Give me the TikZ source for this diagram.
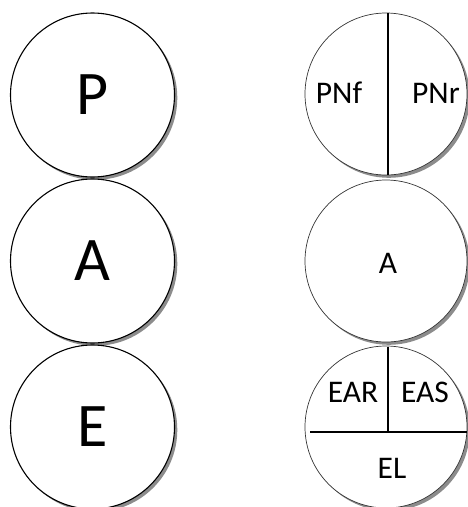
\documentclass[tikz,border=0pt]{standalone}
\usepackage{fontspec}
\setmainfont{Carlito}
\usetikzlibrary{shadows}
\begin{document}
\begin{tikzpicture}[x=1pt,y=-1pt,
  shade/.style={drop shadow={shadow xshift=2.8pt,shadow yshift=-2.8pt,fill=black!75,opacity=0.6}},
  bigcirc/.style={circle,draw=black,line width=1.1pt,fill=white,minimum size=164pt,inner sep=0pt,shade,
    font=\fontsize{62}{62}\selectfont},
  smallcirc/.style={circle,draw=black!80,line width=0.7pt,fill=white,minimum size=162pt,inner sep=0pt,shade},
  lbl/.style={inner sep=0pt,font=\fontsize{31.5}{31.5}\selectfont},
  divider/.style={draw=black,line width=1.1pt}]
\useasboundingbox (0,0) rectangle (467,507);
% left column
\node[bigcirc] (P) at (92.5,95) {P};
\node[bigcirc] (A) at (92.5,261) {A};
\node[bigcirc] (E) at (92.5,427) {E};
% right column
\node[smallcirc] (R1) at (386,94) {};
\node[smallcirc] (R2) at (386,261) {};
\node[smallcirc] (R3) at (386,427) {};
% dividers
\coordinate (t1) at (388,13);
\coordinate (b1) at (388,175);
\draw[divider] (t1) -- (b1);
\coordinate (hL) at (310,432);
\coordinate (hR) at (467,432);
\coordinate (vT) at (388,346.5);
\coordinate (vB) at (388,432);
\draw[divider] (hL) -- (hR);
\draw[divider] (vT) -- (vB);
% labels
\node[lbl] (pnf) at (339,93) {PNf};
\node[lbl] (pnr) at (436,93) {PNr};
\node[lbl] (a2) at (388,263) {A};
\node[lbl] (ear) at (353,392) {EAR};
\node[lbl] (eas) at (425,392) {EAS};
\node[lbl] (el) at (392,468) {EL};
\end{tikzpicture}
\end{document}
